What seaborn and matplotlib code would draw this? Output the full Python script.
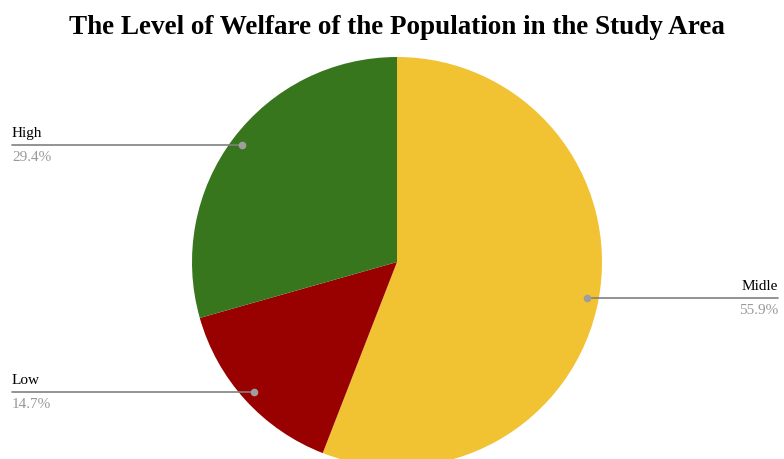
import matplotlib
matplotlib.use("Agg")
import matplotlib.pyplot as plt
import seaborn as sns
import numpy as np

sns.set_theme(style="white")
plt.rcParams['font.family'] = ['Liberation Serif', 'DejaVu Serif']

title = "The Level of Welfare of the Population in the Study Area"
categories = ["Midle", "Low", "High"]
values = [55.9, 14.7, 29.4]
pct_labels = ["55.9%", "14.7%", "29.4%"]
colors = ["#f1c232", "#990000", "#38761d"]

W, H = 784, 459
fig = plt.figure(figsize=(W / 100, H / 100), dpi=100)
ax = fig.add_axes([0, 0, 1, 1])

# pixel-like coordinates with y up (y_data = H - y_pixel)
cx, cy, R = 397, H - 262, 205
wedges, _ = ax.pie(values, colors=colors, startangle=90, counterclock=False,
                   center=(cx, cy), radius=R, frame=True,
                   wedgeprops=dict(linewidth=0))
ax.set_xlim(0, W)
ax.set_ylim(0, H)
ax.set_aspect("auto")
ax.axis("off")

label_x = {"Midle": 778, "Low": 12, "High": 12}
for w, cat, pct in zip(wedges, categories, pct_labels):
    mid = np.deg2rad((w.theta1 + w.theta2) / 2)
    dx = cx + 0.945 * R * np.cos(mid)
    dy = cy + 0.945 * R * np.sin(mid)
    lx = label_x[cat]
    ax.plot([dx, lx], [dy, dy], color="#808080", lw=1.2, zorder=3)
    ax.plot([dx], [dy], "o", color="#9e9e9e", ms=4.5, zorder=4)
    ha = "right" if lx > cx else "left"
    ax.text(lx, dy + 8, cat, ha=ha, va="baseline", fontsize=11, color="#000000")
    ax.text(lx, dy - 16, pct, ha=ha, va="baseline", fontsize=11, color="#999999")

ax.text(397, H - 34, title, ha="center", va="baseline", fontsize=19.5,
        fontweight="bold", color="#000000")

fig.savefig("out.png", dpi=100)
